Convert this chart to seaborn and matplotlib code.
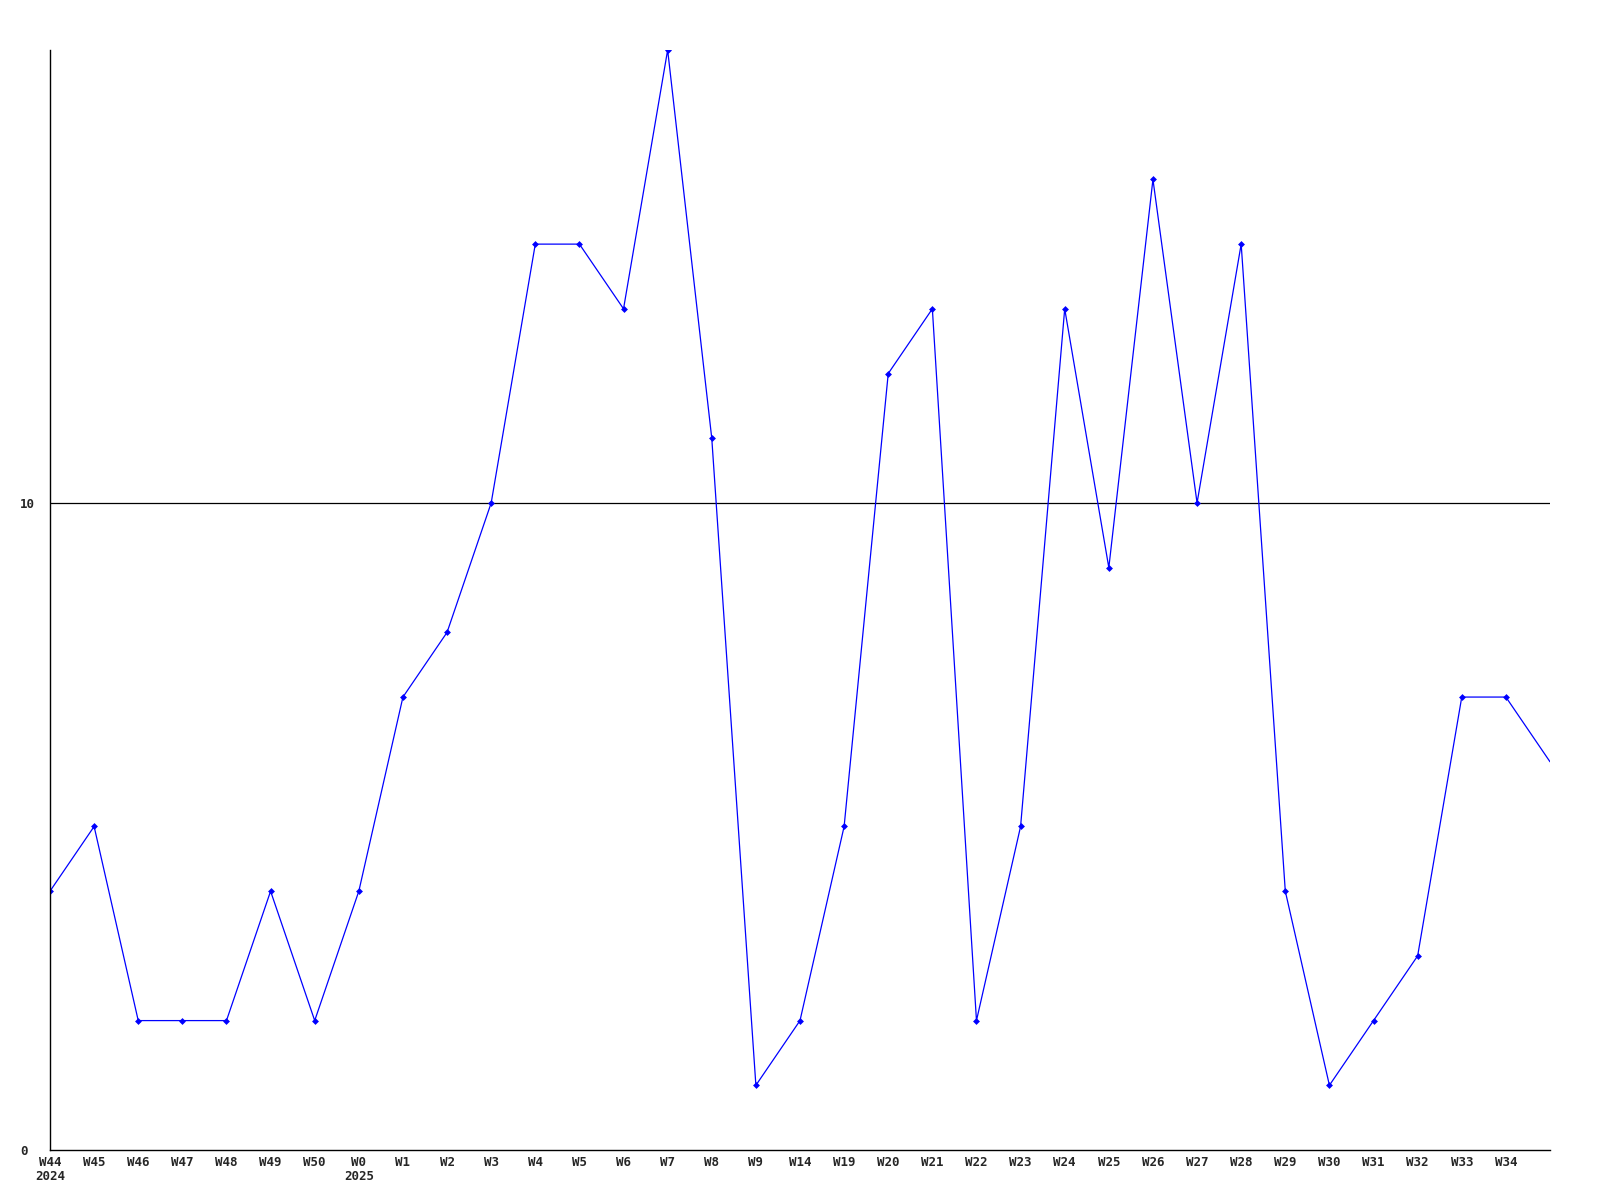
import matplotlib
matplotlib.use("Agg")
import matplotlib.pyplot as plt
import seaborn as sns
import pandas as pd

weeks = ["W44", "W45", "W46", "W47", "W48", "W49", "W50", "W0", "W1", "W2", "W3",
         "W4", "W5", "W6", "W7", "W8", "W9", "W14", "W19", "W20", "W21", "W22",
         "W23", "W24", "W25", "W26", "W27", "W28", "W29", "W30", "W31", "W32",
         "W33", "W34", ""]
years = {"W44": "2024", "W0": "2025"}
values = [4, 5, 2, 2, 2, 4, 2, 4, 7, 8, 10,
          14, 14, 13, 17, 11, 1, 2, 5, 12, 13, 2,
          5, 13, 9, 15, 10, 14, 4, 1, 2, 3,
          7, 7, 6]
y_ticks = [0, 10]

df = pd.DataFrame({"idx": range(len(values)), "value": values})

sns.set_style("white")
plt.rcParams['font.family'] = ['DejaVu Sans Mono', 'DejaVu Sans']

fig = plt.figure(figsize=(16, 12), dpi=100)
ax = fig.add_axes([50/1600, 50/1200, 1500/1600, 1100/1200])

sns.lineplot(data=df, x="idx", y="value", ax=ax, color="#0000ff", linewidth=0.9,
             marker="D", markersize=3.5, markeredgewidth=0,
             markevery=list(range(len(values) - 1)))

ax.axhline(10, color="black", linewidth=0.9, zorder=0)

ax.set_xlim(0, len(values) - 1)
ax.set_ylim(0, 17)
ax.set_xticks(range(len(weeks) - 1))
ax.set_xticklabels([w + ("\n" + years[w] if w in years else "") for w in weeks[:-1]],
                   fontsize=9, fontweight="bold", va="top", linespacing=1.1)
ax.set_yticks(y_ticks)
ax.set_yticklabels([str(t) for t in y_ticks], fontsize=9, fontweight="bold", ha="left")
ax.tick_params(axis="both", length=0)
ax.tick_params(axis="x", pad=4)
ax.tick_params(axis="y", pad=21.5)
ax.set_xlabel("")
ax.set_ylabel("")
for s in ["top", "right"]:
    ax.spines[s].set_visible(False)
for s in ["left", "bottom"]:
    ax.spines[s].set_color("black")
    ax.spines[s].set_linewidth(1.0)
ax.grid(False)

fig.savefig("out.png", dpi=100, facecolor="white")
